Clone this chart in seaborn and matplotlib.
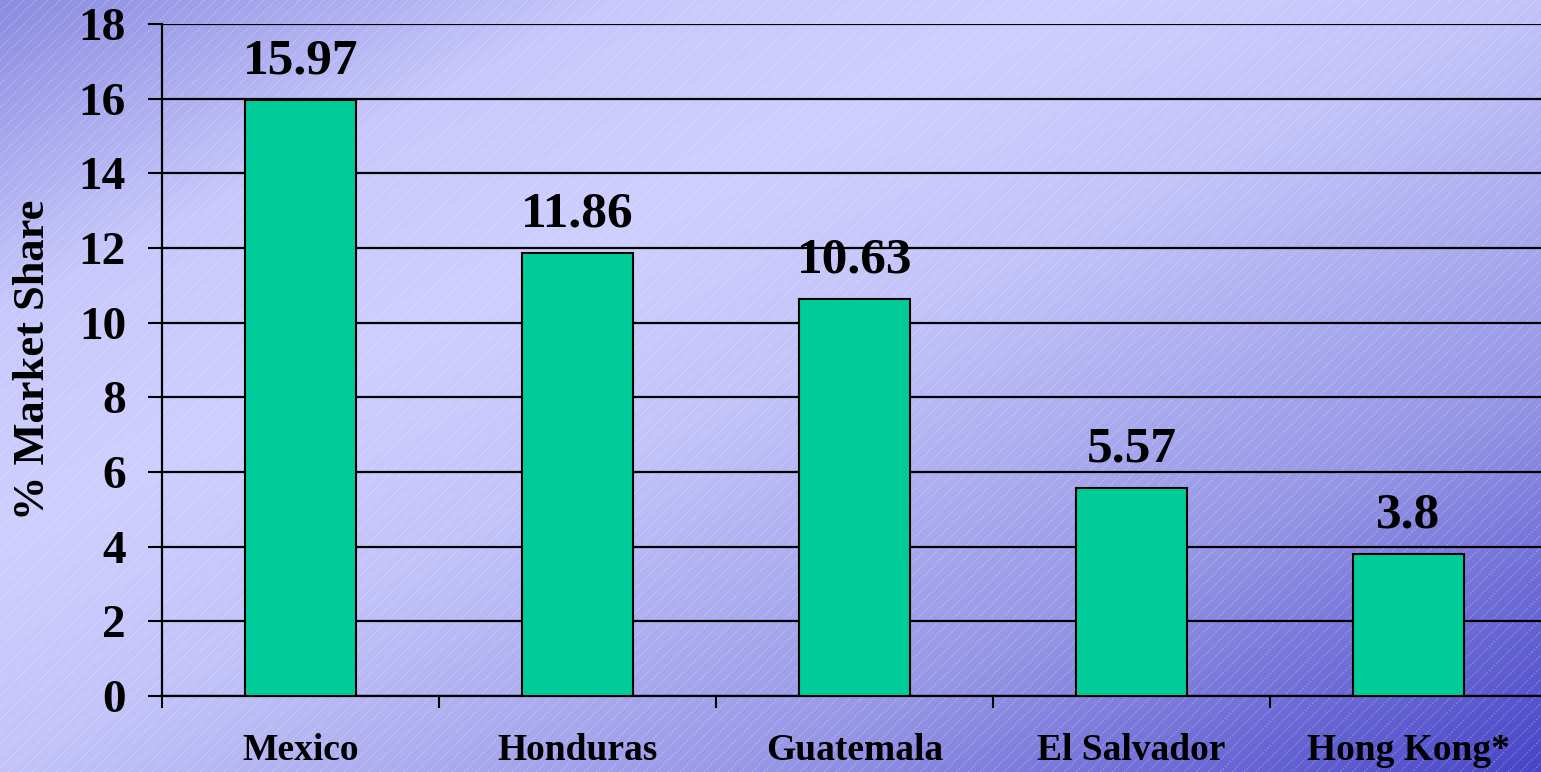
import numpy as np
import pandas as pd
import matplotlib.pyplot as plt
import seaborn as sns
from matplotlib.colors import LinearSegmentedColormap
from matplotlib.collections import LineCollection

# data
countries = ['Mexico', 'Honduras', 'Guatemala', 'El Salvador', 'Hong Kong*']
share = [15.97, 11.86, 10.63, 5.57, 3.8]
share_labels = ['15.97', '11.86', '10.63', '5.57', '3.8']
y_ticks = [0, 2, 4, 6, 8, 10, 12, 14, 16, 18]

df = pd.DataFrame({'country': countries, 'share': share})

sns.set_theme(style="ticks")
plt.rcParams['font.family'] = ['Liberation Serif', 'DejaVu Serif']
plt.rcParams['font.weight'] = 'bold'
plt.rcParams['text.color'] = 'black'
plt.rcParams['xtick.color'] = 'black'
plt.rcParams['ytick.color'] = 'black'
plt.rcParams['xtick.labelcolor'] = 'black'
plt.rcParams['ytick.labelcolor'] = 'black'

W, H = 1541, 772
fig = plt.figure(figsize=(W / 100, H / 100), dpi=100)

# --- background: diagonal gradient + faint stripes ---
bg = fig.add_axes([0, 0, 1, 1], zorder=0)
bg.axis('off')
cmap = LinearSegmentedColormap.from_list('bg', [
    (0.00, (140/255, 140/255, 225/255)),
    (0.20, (200/255, 200/255, 252/255)),
    (0.35, (206/255, 206/255, 255/255)),
    (0.50, (195/255, 195/255, 250/255)),
    (0.75, (150/255, 150/255, 230/255)),
    (1.00, (72/255, 70/255, 200/255)),
])
gx, gy = np.meshgrid(np.linspace(0, 1, 400), np.linspace(0, 1, 200))
bg.imshow((gx + gy) / 2, cmap=cmap, extent=[0, W, H, 0], aspect='auto',
          interpolation='bilinear')
segs = [[(c, 0), (c - H, H)] for c in range(0, W + H, 12)]
bg.add_collection(LineCollection(segs, colors=(1, 1, 1, 0.3), linewidths=0.8,
                                 linestyles=(0, (1.5, 1.5))))
bg.set_xlim(0, W)
bg.set_ylim(H, 0)

# --- main chart ---
ax = fig.add_axes([162 / W, 1 - 696 / H, 1385 / W, 672 / H], zorder=1)
ax.patch.set_alpha(0)

sns.barplot(data=df, x='country', y='share', color='#00CC99', saturation=1,
            width=0.4, edgecolor='black', linewidth=1.5, ax=ax, zorder=3)

for i, (v, lab) in enumerate(zip(share, share_labels)):
    ax.annotate(lab, (i, v), xytext=(0, 19), textcoords='offset points',
                ha='center', va='baseline', fontsize=37, fontweight='bold',
                color='black', zorder=4)

ax.set_ylim(0, 18)
ax.set_xlim(-0.5, 4.5)
ax.set_yticks(y_ticks)
ax.yaxis.grid(True, color='black', linewidth=1.6)
ax.set_axisbelow(True)

ax.set_xticks(np.arange(-0.5, 5, 1), minor=True)
ax.tick_params(axis='x', which='major', length=0, pad=27, labelsize=27)
ax.tick_params(axis='x', which='minor', length=8.6, width=1.5, color='black')
ax.tick_params(axis='y', length=10, width=1.5, color='black', pad=16,
               labelsize=34)
for lab in ax.get_xticklabels() + ax.get_yticklabels():
    lab.set_fontweight('bold')
    lab.set_color('black')

ax.set_xlabel('')
ax.set_ylabel('')
for s in ['top', 'right']:
    ax.spines[s].set_visible(False)
for s in ['left', 'bottom']:
    ax.spines[s].set_color('black')
    ax.spines[s].set_linewidth(1.6)

fig.text(33 / W, 1 - 360 / H, '% Market Share', rotation=90, ha='center',
         va='center', fontsize=32, fontweight='bold', color='black')

plt.savefig('out.png', dpi=100)
